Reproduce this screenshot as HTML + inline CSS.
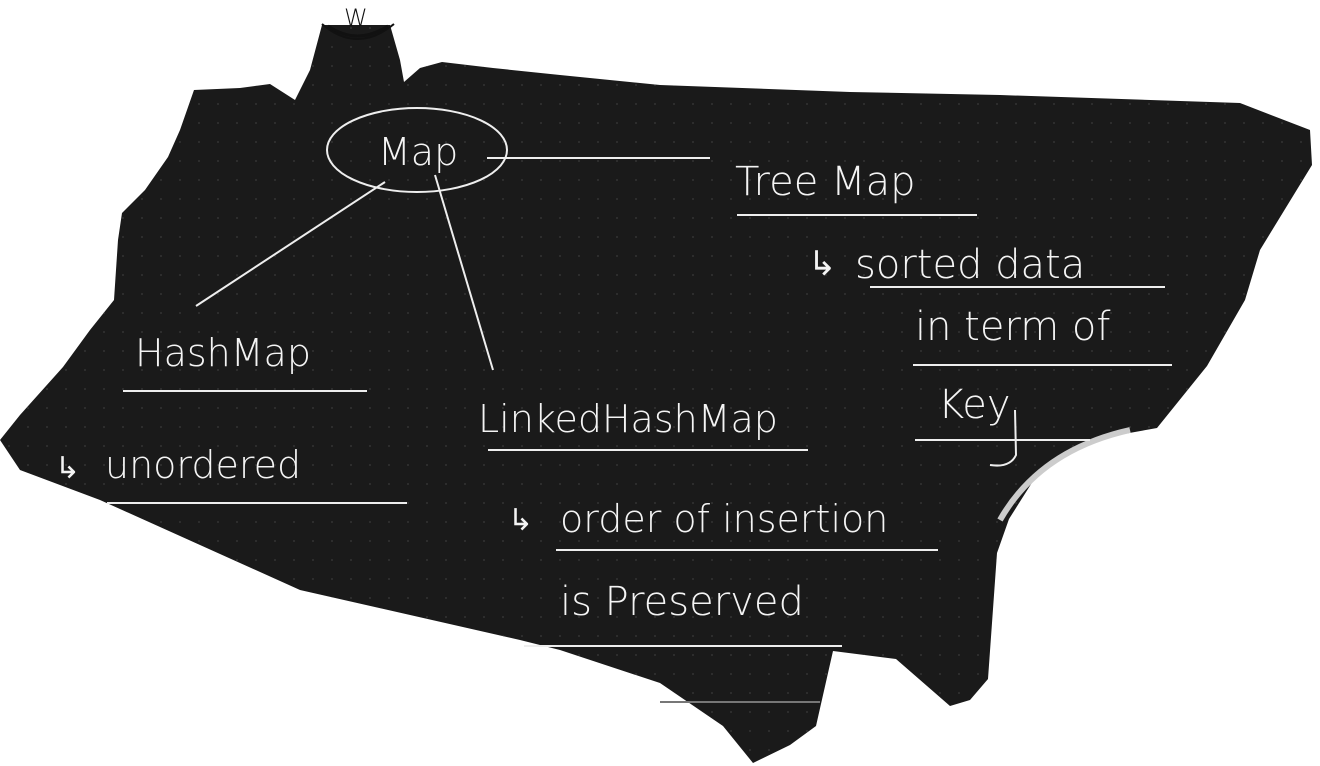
<!DOCTYPE html>
<html><head><meta charset="utf-8"><style>
html,body{margin:0;padding:0;background:#fff;}
svg{display:block;}
text{font-family:"DejaVu Sans","Liberation Sans",sans-serif;fill:#f4f4f4;font-weight:300;}
</style></head><body>
<svg width="1320" height="766" viewBox="0 0 1320 766" xmlns="http://www.w3.org/2000/svg">
<defs>
<pattern id="d" width="19" height="19" patternUnits="userSpaceOnUse"><circle cx="9" cy="9" r="0.9" fill="#3a3a3a"/></pattern>
<clipPath id="c"><path id="shape" d="M194,90 L240,88 L270,84 L295,100 L310,70 L322,25 L390,25 L400,60 L404,82 L420,68 L442,62 L493,68 L560,75 L660,85 L850,92 L1000,95 L1240,103 L1310,130 L1312,165 L1260,250 L1245,300 L1207,366 L1157,428 L1090,440 L1040,470 L1009,519 L997,553 L988,679 L970,700 L950,706 L896,659 L833,651 L816,726 L790,745 L753,763 L723,726 L660,683 L560,650 L520,640 L300,590 L100,500 L20,470 L0,440 L20,415 L63,367 L90,330 L114,300 L118,240 L122,213 L145,190 L168,157 L180,130 Z"/></clipPath>
</defs>
<g clip-path="url(#c)">
<rect width="1320" height="766" fill="#1a1a1a"/>
<rect width="1320" height="766" fill="url(#d)"/>
</g>
<path d="M1000,520 Q1040,450 1130,430" stroke="#ccc" stroke-width="6" fill="none"/>
<g stroke="#eee" stroke-width="2" fill="none">
<ellipse cx="417" cy="150" rx="90" ry="42"/>
<line x1="487" y1="158" x2="710" y2="158"/>
<line x1="385" y1="182" x2="196" y2="306"/>
<line x1="435" y1="175" x2="493" y2="370"/>
<line x1="737" y1="215" x2="977" y2="215"/>
<line x1="870" y1="287" x2="1165" y2="287"/>
<line x1="913" y1="365" x2="1172" y2="365"/>
<line x1="915" y1="440" x2="1090" y2="440"/>
<line x1="123" y1="391" x2="367" y2="391"/>
<line x1="107" y1="503" x2="407" y2="503"/>
<line x1="488" y1="450" x2="808" y2="450"/>
<line x1="556" y1="550" x2="938" y2="550"/>
<line x1="524" y1="646" x2="842" y2="646"/>
<line x1="660" y1="702" x2="820" y2="702" stroke="#777"/>
<path d="M1015,410 L1016,455 Q1010,468 990,465"/>
</g>
<g stroke="#111" fill="none">
<path d="M328,26 Q357,46 388,26" stroke-width="3"/>
<path d="M322,24 Q357,54 394,24" stroke-width="2"/>
</g>
<text x="344" y="26" font-size="24" style="fill:#111">W</text>
<text x="378" y="165" font-size="38">Map</text>
<text x="735" y="195" font-size="40">Tree Map</text>
<text x="808" y="275" font-size="34">↳</text>
<text x="855" y="278" font-size="40">sorted data</text>
<text x="915" y="340" font-size="40">in term of</text>
<text x="938" y="418" font-size="40">Key</text>
<text x="135" y="366" font-size="38">HashMap</text>
<text x="55" y="478" font-size="30">↳</text>
<text x="105" y="478" font-size="38">unordered</text>
<text x="478" y="432" font-size="38">LinkedHashMap</text>
<text x="508" y="530" font-size="30">↳</text>
<text x="560" y="532" font-size="38">order of insertion</text>
<text x="560" y="615" font-size="40">is Preserved</text>
</svg>
</body></html>
